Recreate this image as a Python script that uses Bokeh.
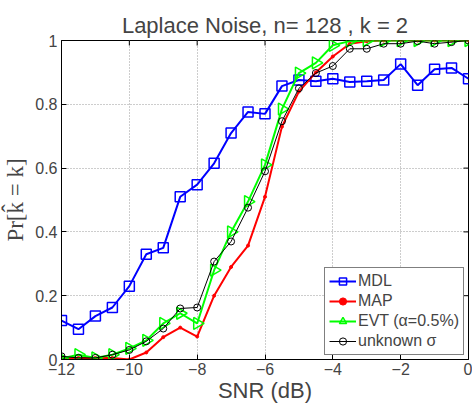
from bokeh.plotting import figure
from bokeh.models import Range1d, FixedTicker, CustomJSTickFormatter, Legend, LegendItem
from bokeh.embed import file_html
from bokeh.resources import INLINE
import math

snr = [-12, -11.5, -11, -10.5, -10, -9.5, -9, -8.5, -8, -7.5, -7, -6.5, -6,
       -5.5, -5, -4.5, -4, -3.5, -3, -2.5, -2, -1.5, -1, -0.5, 0]
mdl = [0.122, 0.095, 0.136, 0.163, 0.23, 0.33, 0.35, 0.51, 0.548, 0.615, 0.71, 0.776, 0.77,
       0.857, 0.876, 0.872, 0.88, 0.87, 0.872, 0.876, 0.926, 0.86, 0.91, 0.914, 0.88]
map_ = [0.005, 0.005, 0.005, 0.005, 0.0, 0.022, 0.07, 0.1, 0.072, 0.2, 0.29, 0.357, 0.51,
        0.73, 0.84, 0.9, 0.95, 0.99, 0.998, 1.0, 1.0, 1.0, 1.0, 1.0, 1.0]
evt = [0.003, 0.015, 0.005, 0.015, 0.035, 0.06, 0.113, 0.145, 0.113, 0.28, 0.40, 0.495, 0.61,
       0.785, 0.898, 0.93, 0.985, 0.998, 1.0, 1.0, 1.0, 1.0, 1.0, 1.0, 1.0]
unk = [0.01, 0.005, 0.005, 0.015, 0.03, 0.057, 0.097, 0.16, 0.163, 0.307, 0.37, 0.476, 0.59,
       0.747, 0.85, 0.898, 0.92, 0.974, 0.974, 0.99, 0.99, 0.998, 0.99, 0.995, 1.0]
xticks = [-12, -10, -8, -6, -4, -2, 0]
yticks = [0, 0.2, 0.4, 0.6, 0.8, 1]

FONT = "Liberation Sans"
XMIN, XMAX, YMIN, YMAX = -12, 0, 0, 1
W, H, BL, BR, BT, BB = 472, 408, 60, 4, 40, 49

p = figure(width=W, height=H, output_backend="svg", toolbar_location=None,
           x_range=Range1d(XMIN, XMAX), y_range=Range1d(YMIN, YMAX),
           min_border_left=BL, min_border_right=BR, min_border_top=BT, min_border_bottom=BB)
p.title.text = "Laplace Noise, n= 128 , k = 2"
p.title.text_font = FONT
p.title.text_font_size = "22px"
p.title.text_font_style = "normal"
p.title.align = "center"
p.title.offset = 0
p.title.standoff = 6

p.outline_line_color = "black"
p.outline_line_width = 1

fmt = CustomJSTickFormatter(code="return tick.toString().replace('-', '\u2212');")

for ax in (p.xaxis[0], p.yaxis[0]):
    ax.major_label_text_font = FONT
    ax.major_label_text_font_size = "16px"
    ax.axis_label_text_font = FONT
    ax.axis_label_text_font_style = "normal"
    ax.major_tick_in = 5
    ax.major_tick_out = 0
    ax.minor_tick_in = 0
    ax.minor_tick_out = 0
    ax.axis_line_color = "black"
    ax.major_tick_line_color = "black"
    ax.formatter = fmt

p.xaxis.ticker = FixedTicker(ticks=xticks)
p.yaxis.ticker = FixedTicker(ticks=yticks)
p.xaxis.axis_label = "SNR (dB)"
p.xaxis.axis_label_text_font_size = "22px"
p.xaxis.axis_label_standoff = 0
p.xaxis.major_label_standoff = 3
p.yaxis.axis_label = "Pr[k\u0302 = k]"
p.yaxis.axis_label_text_font = "Liberation Serif"
p.yaxis.axis_label_text_font_size = "23px"
p.yaxis.axis_label_standoff = 4
p.yaxis.major_label_standoff = 4

# inward tick marks on the top and right edges (box on)
tick_px = 5
fw, fh = W - BL - BR, H - BT - BB
dx = tick_px * (XMAX - XMIN) / fw
dy = tick_px * (YMAX - YMIN) / fh
p.segment(x0=xticks, y0=[YMAX] * len(xticks), x1=xticks, y1=[YMAX - dy] * len(xticks),
          line_color="black", line_width=1)
p.segment(x0=[XMAX] * len(yticks), y0=yticks, x1=[XMAX - dx] * len(yticks), y1=yticks,
          line_color="black", line_width=1)

p.xgrid.ticker = FixedTicker(ticks=xticks)
p.ygrid.ticker = FixedTicker(ticks=yticks)
for g in (p.xgrid[0], p.ygrid[0]):
    g.grid_line_color = "#9a9a9a"
    g.grid_line_dash = "1 2"
    g.grid_line_width = 1

l1 = p.line(snr, mdl, line_color="#0000ff", line_width=2)
m1 = p.scatter(snr, mdl, marker="square", size=10, line_color="#0000ff", line_width=1.5, fill_color=None)
l2 = p.line(snr, map_, line_color="#ff0000", line_width=2)
m2 = p.scatter(snr, map_, marker="circle", size=3, line_color="#ff0000", fill_color="#ff0000")
l3 = p.line(snr, evt, line_color="#00ff00", line_width=2)
m3 = p.scatter(snr, evt, marker="triangle", size=12, angle=-math.pi / 2, line_color="#00ff00",
               line_width=1.5, fill_color=None)
l4 = p.line(snr, unk, line_color="black", line_width=1)
m4 = p.scatter(snr, unk, marker="circle", size=7, line_color="black", line_width=1, fill_color=None)

legend = Legend(items=[
    LegendItem(label="MDL", renderers=[l1, m1]),
    LegendItem(label="MAP", renderers=[l2, m2]),
    LegendItem(label="EVT (\u03b1=0.5%)", renderers=[l3, m3]),
    LegendItem(label="unknown \u03c3", renderers=[l4, m4]),
], location="bottom_right")
legend.label_text_font = FONT
legend.label_text_font_size = "16px"
legend.label_height = 18
legend.glyph_height = 18
legend.glyph_width = 27
legend.label_standoff = 2
legend.spacing = 2
legend.padding = 4
legend.margin = 4
legend.border_line_color = "black"
legend.border_line_width = 1
legend.background_fill_alpha = 1
p.add_layout(legend, "center")

open("out.html", "w").write(file_html(p, INLINE))
